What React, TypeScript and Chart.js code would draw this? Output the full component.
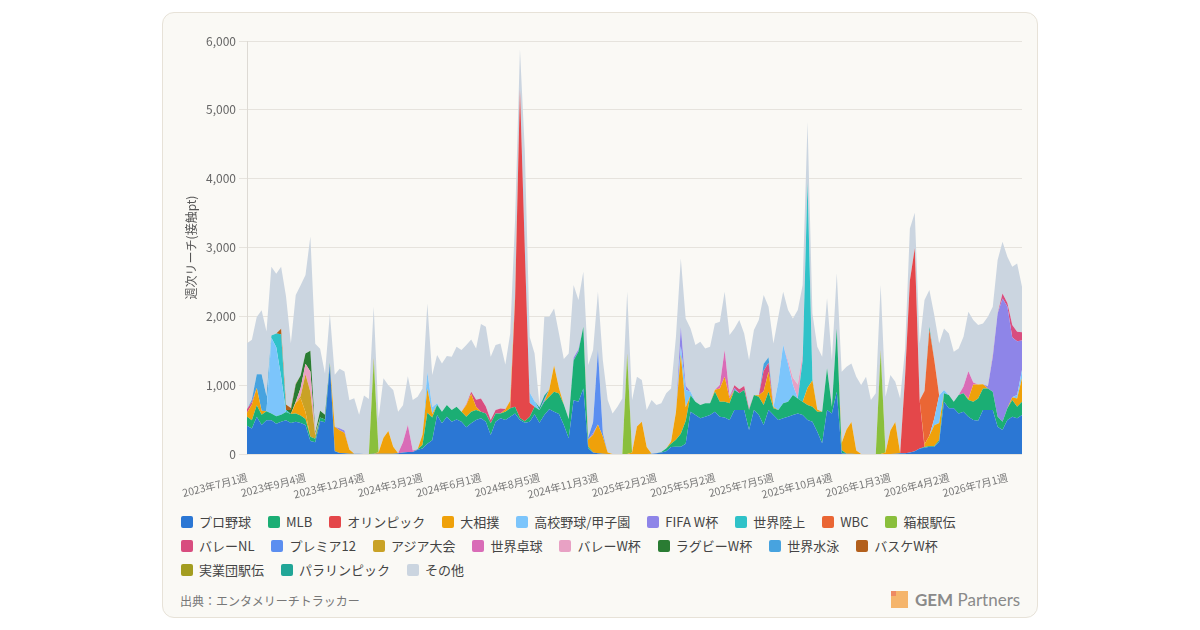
import React, { useEffect, useRef } from "react";
import { Chart, registerables } from "chart.js";
Chart.register(...registerables);

const FONT = "'Noto Sans CJK JP', 'Noto Sans', sans-serif";

// [year, month, number of weeks in that month]
const MONTHS: Array<[number, number, number]> = [
  [2023, 7, 5], [2023, 8, 4], [2023, 9, 4], [2023, 10, 4], [2023, 11, 4], [2023, 12, 5],
  [2024, 1, 5], [2024, 2, 4], [2024, 3, 4], [2024, 4, 5], [2024, 5, 4], [2024, 6, 4],
  [2024, 7, 4], [2024, 8, 5], [2024, 9, 4], [2024, 10, 5], [2024, 11, 4], [2024, 12, 4],
  [2025, 1, 5], [2025, 2, 4], [2025, 3, 4], [2025, 4, 4], [2025, 5, 5], [2025, 6, 4],
  [2025, 7, 5], [2025, 8, 4], [2025, 9, 4], [2025, 10, 5], [2025, 11, 4], [2025, 12, 4],
  [2026, 1, 5], [2026, 2, 4], [2026, 3, 4], [2026, 4, 5], [2026, 5, 4], [2026, 6, 4],
  [2026, 7, 4],
];
const WEEK_LABELS: string[] = MONTHS.flatMap(([y, m, n]) =>
  Array.from({ length: n }, (_, k) => `${y}年${m}月${k + 1}週`)
);
const TICK_EVERY = 12;

// dense weekly series (one value per week)
const PRO = [
  410, 370, 540, 420, 490, 490, 440, 470, 490, 450, 470, 450, 420, 190, 170, 480, 460, 1300, 40, 15,
  10, 5, 5, 5, 0, 0, 5, 5, 5, 5, 5, 10, 20, 30, 30, 60, 80, 150, 200, 566,
  445, 542, 470, 503, 470, 387, 445, 494, 518, 470, 276, 470, 518, 494, 542, 590, 494, 455, 470, 576,
  455, 566, 649, 615, 580, 420, 230, 780, 760, 950, 80, 20, 10, 5, 0, 0, 0, 0, 0, 0,
  0, 0, 0, 5, 10, 20, 40, 100, 106, 106, 150, 615, 566, 518, 542, 566, 615, 542, 532, 494,
  639, 639, 639, 348, 639, 566, 421, 639, 566, 494, 518, 542, 566, 590, 566, 494, 470, 324, 155, 639,
  590, 905, 10, 5, 5, 0, 0, 0, 0, 0, 0, 0, 0, 5, 10, 10, 20, 40, 80, 90,
  106, 106, 179, 760, 663, 663, 590, 615, 542, 494, 484, 639, 639, 639, 397, 348, 494, 542, 518, 566,
];
const MLB = [
  130, 120, 170, 150, 130, 100, 110, 100, 120, 130, 120, 110, 90, 60, 50, 50, 40, 30, 5, 0,
  0, 0, 0, 0, 0, 0, 0, 0, 0, 0, 0, 0, 0, 0, 0, 10, 50, 450, 330, 150,
  170, 169, 169, 184, 145, 155, 170, 145, 97, 120, 169, 120, 72, 121, 121, 97, 30, 20, 72, 111,
  184, 194, 183, 290, 300, 300, 280, 580, 730, 900, 30, 0, 0, 0, 0, 0, 0, 0, 0, 0,
  0, 0, 0, 0, 0, 10, 40, 50, 100, 190, 330, 240, 194, 193, 194, 170, 290, 218, 228, 242,
  290, 242, 290, 291, 218, 266, 290, 266, 97, 145, 218, 218, 291, 218, 194, 217, 217, 291, 460, 605,
  97, 920, 48, 0, 0, 0, 0, 0, 0, 0, 0, 0, 0, 0, 0, 0, 0, 0, 0, 10,
  10, 10, 20, 121, 194, 97, 267, 266, 242, 266, 324, 314, 314, 266, 145, 121, 169, 242, 169, 194,
];
const OTHER = [
  960, 870, 830, 930, 940, 1000, 870, 900, 1570, 940, 1290, 1310, 1140, 1660, 1290, 900, 600, 710, 755, 865,
  860, 715, 805, 565, 850, 800, 745, 495, 865, 665, 825, 605, 540, 710, 734, 762, 673, 998, 467, 701,
  701, 712, 774, 871, 895, 861, 759, 747, 1083, 1159, 918, 943, 947, 645, 977, 1103, 546, 1285, 808, 693,
  32, 1144, 1062, 830, 792, 660, 950, 1054, 716, 798, 1052, 1050, 847, 1060, 764, 590, 687, 808, 897, 764,
  723, 605, 539, 779, 701, 706, 801, 773, 1094, 995, 980, 920, 823, 920, 798, 822, 962, 919, 847, 890,
  826, 1005, 763, 706, 943, 1094, 998, 734, 924, 955, 771, 731, 863, 1083, 994, 872, 956, 913, 798, 1018,
  678, 800, 1037, 913, 851, 1073, 1002, 1123, 784, 881, 944, 812, 807, 585, 798, 400, 757, 514, 827, 1321,
  531, 652, 758, 894, 895, 726, 677, 723, 866, 906, 865, 884, 1011, 714, 775, 751, 672, 846, 991, 660,
];

// event series: week index -> value (all other weeks are 0)
const OLYMPIC: Record<number, number> = { 55: 1560, 56: 4780, 57: 2490, 58: 200, 135: 1100, 136: 2500, 137: 2950, 138: 700 };
const SUMO: Record<number, number> = {
  0: 60, 1: 230, 2: 250, 3: 60, 10: 150, 11: 250, 12: 100, 18: 350, 19: 330, 20: 300, 21: 60,
  27: 20, 28: 230, 29: 330, 30: 100, 36: 150, 37: 350, 38: 50, 45: 170, 46: 256, 47: 48,
  53: 30, 54: 110, 55: 50, 62: 100, 63: 380, 64: 80, 70: 100, 71: 260, 72: 420, 73: 250, 74: 20,
  79: 20, 80: 400, 81: 470, 82: 100, 87: 30, 88: 400, 89: 1150, 90: 200, 96: 30, 97: 193, 98: 363, 99: 72,
  105: 20, 106: 200, 107: 290, 108: 20, 115: 250, 116: 380, 117: 30, 122: 100, 123: 350, 124: 460, 125: 50,
  131: 20, 132: 340, 133: 460, 139: 40, 140: 150, 141: 300, 142: 250, 148: 20, 149: 250, 150: 200, 151: 60,
  157: 40, 158: 120, 159: 340,
};
const KOSHIEN: Record<number, number> = {
  5: 1100, 6: 1000, 7: 550, 37: 240, 38: 100, 39: 20, 56: 30, 57: 150, 58: 150, 59: 80,
  89: 120, 90: 250, 91: 50, 109: 400, 110: 850, 111: 550, 112: 150, 141: 100, 142: 400, 143: 50, 158: 50, 159: 120,
};
const FIFA: Record<number, number> = {
  19: 30, 20: 30, 61: 30, 67: 40, 68: 30, 71: 30, 89: 280, 90: 60, 100: 30,
  152: 30, 153: 500, 154: 1500, 155: 1790, 156: 1480, 157: 870, 158: 780, 159: 430,
};
const RIKUJO: Record<number, number> = { 5: 30, 6: 200, 7: 620, 8: 30, 114: 600, 115: 2990, 116: 20 };
const WBC: Record<number, number> = { 139: 775, 140: 1544, 141: 850 };
const HAKONE: Record<number, number> = { 26: 1350, 78: 1430, 130: 1480 };
const VNL: Record<number, number> = {
  0: 50, 1: 40, 45: 10, 46: 35, 47: 100, 48: 190, 49: 100, 50: 50, 51: 50, 52: 70, 53: 10,
  100: 40, 101: 60, 102: 60, 103: 20, 106: 300, 107: 130, 153: 20, 155: 73, 156: 50, 157: 180, 158: 140, 159: 120,
};
const PREMIER12: Record<number, number> = { 70: 30, 71: 150, 72: 1080, 73: 50 };
const ASIAN_GAMES: Record<number, number> = { 11: 30, 12: 550, 13: 650, 14: 50 };
const TABLE_TENNIS: Record<number, number> = { 32: 150, 33: 390, 34: 20, 97: 49, 98: 387, 99: 30, 147: 100, 148: 397, 149: 30 };
const VOLLEY_WC: Record<number, number> = { 10: 20, 11: 120, 12: 150, 13: 300, 14: 20, 111: 50, 112: 100, 113: 200, 114: 100 };
const RUGBY: Record<number, number> = { 9: 60, 10: 250, 11: 180, 12: 150, 13: 300, 14: 20, 15: 100, 16: 70 };
const SWIMMING: Record<number, number> = { 1: 30, 2: 200, 3: 530, 4: 220, 106: 100, 107: 80 };
const BASKET: Record<number, number> = { 7: 80, 8: 80, 9: 30, 10: 10 };
const JITSUGYO: Record<number, number> = { 26: 40, 78: 30, 130: 30 };
const PARA: Record<number, number> = { 60: 40, 61: 60, 140: 40 };

const dense = (m: Record<number, number>) => WEEK_LABELS.map((_, i) => m[i] ?? 0);

const SERIES: Array<{ name: string; color: string; data: number[] }> = [
  { name: "プロ野球", color: "#2b77d4", data: PRO },
  { name: "MLB", color: "#1bae74", data: MLB },
  { name: "オリンピック", color: "#e4474a", data: dense(OLYMPIC) },
  { name: "大相撲", color: "#efa10a", data: dense(SUMO) },
  { name: "高校野球/甲子園", color: "#7cc5fb", data: dense(KOSHIEN) },
  { name: "FIFA W杯", color: "#8e85e8", data: dense(FIFA) },
  { name: "世界陸上", color: "#2fc2c8", data: dense(RIKUJO) },
  { name: "WBC", color: "#ea6634", data: dense(WBC) },
  { name: "箱根駅伝", color: "#8abf3c", data: dense(HAKONE) },
  { name: "バレーNL", color: "#d84d7f", data: dense(VNL) },
  { name: "プレミア12", color: "#5b8ef0", data: dense(PREMIER12) },
  { name: "アジア大会", color: "#c9a226", data: dense(ASIAN_GAMES) },
  { name: "世界卓球", color: "#d96cb7", data: dense(TABLE_TENNIS) },
  { name: "バレーW杯", color: "#e8a1c4", data: dense(VOLLEY_WC) },
  { name: "ラグビーW杯", color: "#2a7c33", data: dense(RUGBY) },
  { name: "世界水泳", color: "#47a3df", data: dense(SWIMMING) },
  { name: "バスケW杯", color: "#b3601c", data: dense(BASKET) },
  { name: "実業団駅伝", color: "#a39d20", data: dense(JITSUGYO) },
  { name: "パラリンピック", color: "#21a697", data: dense(PARA) },
  { name: "その他", color: "#cbd5e0", data: OTHER },
];

const LEGEND_ROWS = [
  SERIES.slice(0, 9),
  SERIES.slice(9, 17),
  SERIES.slice(17),
];

export default function App() {
  const ref = useRef<HTMLCanvasElement>(null);

  useEffect(() => {
    if (!ref.current) return;
    const chart = new Chart(ref.current, {
      type: "line",
      data: {
        labels: WEEK_LABELS,
        datasets: SERIES.map((s, i) => ({
          label: s.name,
          data: s.data,
          backgroundColor: s.color,
          borderColor: s.color,
          borderWidth: 0,
          pointRadius: 0,
          pointHoverRadius: 0,
          tension: 0,
          fill: i === 0 ? "origin" : "-1",
        })),
      },
      options: {
        animation: false,
        responsive: true,
        maintainAspectRatio: false,
        events: [],
        layout: { padding: { top: 16, right: 10, bottom: 0, left: 0 } },
        plugins: { legend: { display: false }, tooltip: { enabled: false } },
        scales: {
          x: {
            grid: { display: false, drawTicks: false },
            border: { display: false },
            ticks: {
              autoSkip: false,
              minRotation: 14,
              maxRotation: 14,
              padding: 17,
              color: "#777",
              font: { family: FONT, size: 10.5 },
              callback: (_v: any, i: number) => (i % TICK_EVERY === 0 ? WEEK_LABELS[i] : ""),
            },
            afterFit: (s: any) => {
              s.height = 51;
              s.paddingLeft = 0;
              s.paddingRight = 0;
            },
          },
          y: {
            stacked: true,
            min: 0,
            max: 6000,
            ticks: {
              stepSize: 1000,
              color: "#666",
              font: { family: FONT, size: 12 },
              callback: (v: any) => Number(v).toLocaleString("en-US"),
            },
            grid: { color: "#e6e3dd", tickLength: 8 },
            border: { color: "#dddad4" },
            title: {
              display: true,
              text: "週次リーチ(接触pt)",
              color: "#555",
              font: { family: FONT, size: 12 },
              padding: { top: 14, bottom: 0 },
            },
            afterFit: (s: any) => {
              s.width = 77;
            },
          },
        },
      },
    } as any);
    return () => chart.destroy();
  }, []);

  return (
    <div style={{ position: "absolute", left: 0, top: 0, width: 1200, height: 630, background: "#ffffff", fontFamily: FONT }}>
      <div
        style={{
          position: "absolute", left: 162, top: 12, width: 876, height: 606, boxSizing: "border-box",
          border: "1px solid #e7e2d8", borderRadius: 12, background: "#faf9f5",
        }}
      />
      <div style={{ position: "absolute", left: 170, top: 25, width: 862, height: 480 }}>
        <canvas ref={ref} />
      </div>
      {LEGEND_ROWS.map((row, r) => (
        <div
          key={r}
          style={{ position: "absolute", left: 181, top: 510 + r * 24.2, height: 24, display: "flex", alignItems: "center", whiteSpace: "nowrap" }}
        >
          {row.map((s) => (
            <div key={s.name} style={{ display: "flex", alignItems: "center", marginRight: 17 }}>
              <span style={{ width: 12, height: 12, borderRadius: 2, background: s.color, display: "inline-block", marginRight: 6 }} />
              <span style={{ fontSize: 13, color: "#444", lineHeight: "16px" }}>{s.name}</span>
            </div>
          ))}
        </div>
      ))}
      <div style={{ position: "absolute", left: 180, top: 592, fontSize: 12, color: "#777", lineHeight: "18px", whiteSpace: "nowrap" }}>
        出典：エンタメリーチトラッカー
      </div>
      <div style={{ position: "absolute", left: 891, top: 591, width: 17, height: 17, background: "#f5b56c" }}>
        <div style={{ position: "absolute", left: 0, top: 0, width: 5, height: 5, background: "#ee8a63" }} />
      </div>
      <div
        style={{
          position: "absolute", left: 915, top: 588, fontFamily: "Lato, 'Open Sans', sans-serif", fontSize: 17,
          color: "#8a8a8a", lineHeight: "24px", whiteSpace: "nowrap",
        }}
      >
        <span style={{ fontWeight: 700 }}>GEM</span> Partners
      </div>
    </div>
  );
}
